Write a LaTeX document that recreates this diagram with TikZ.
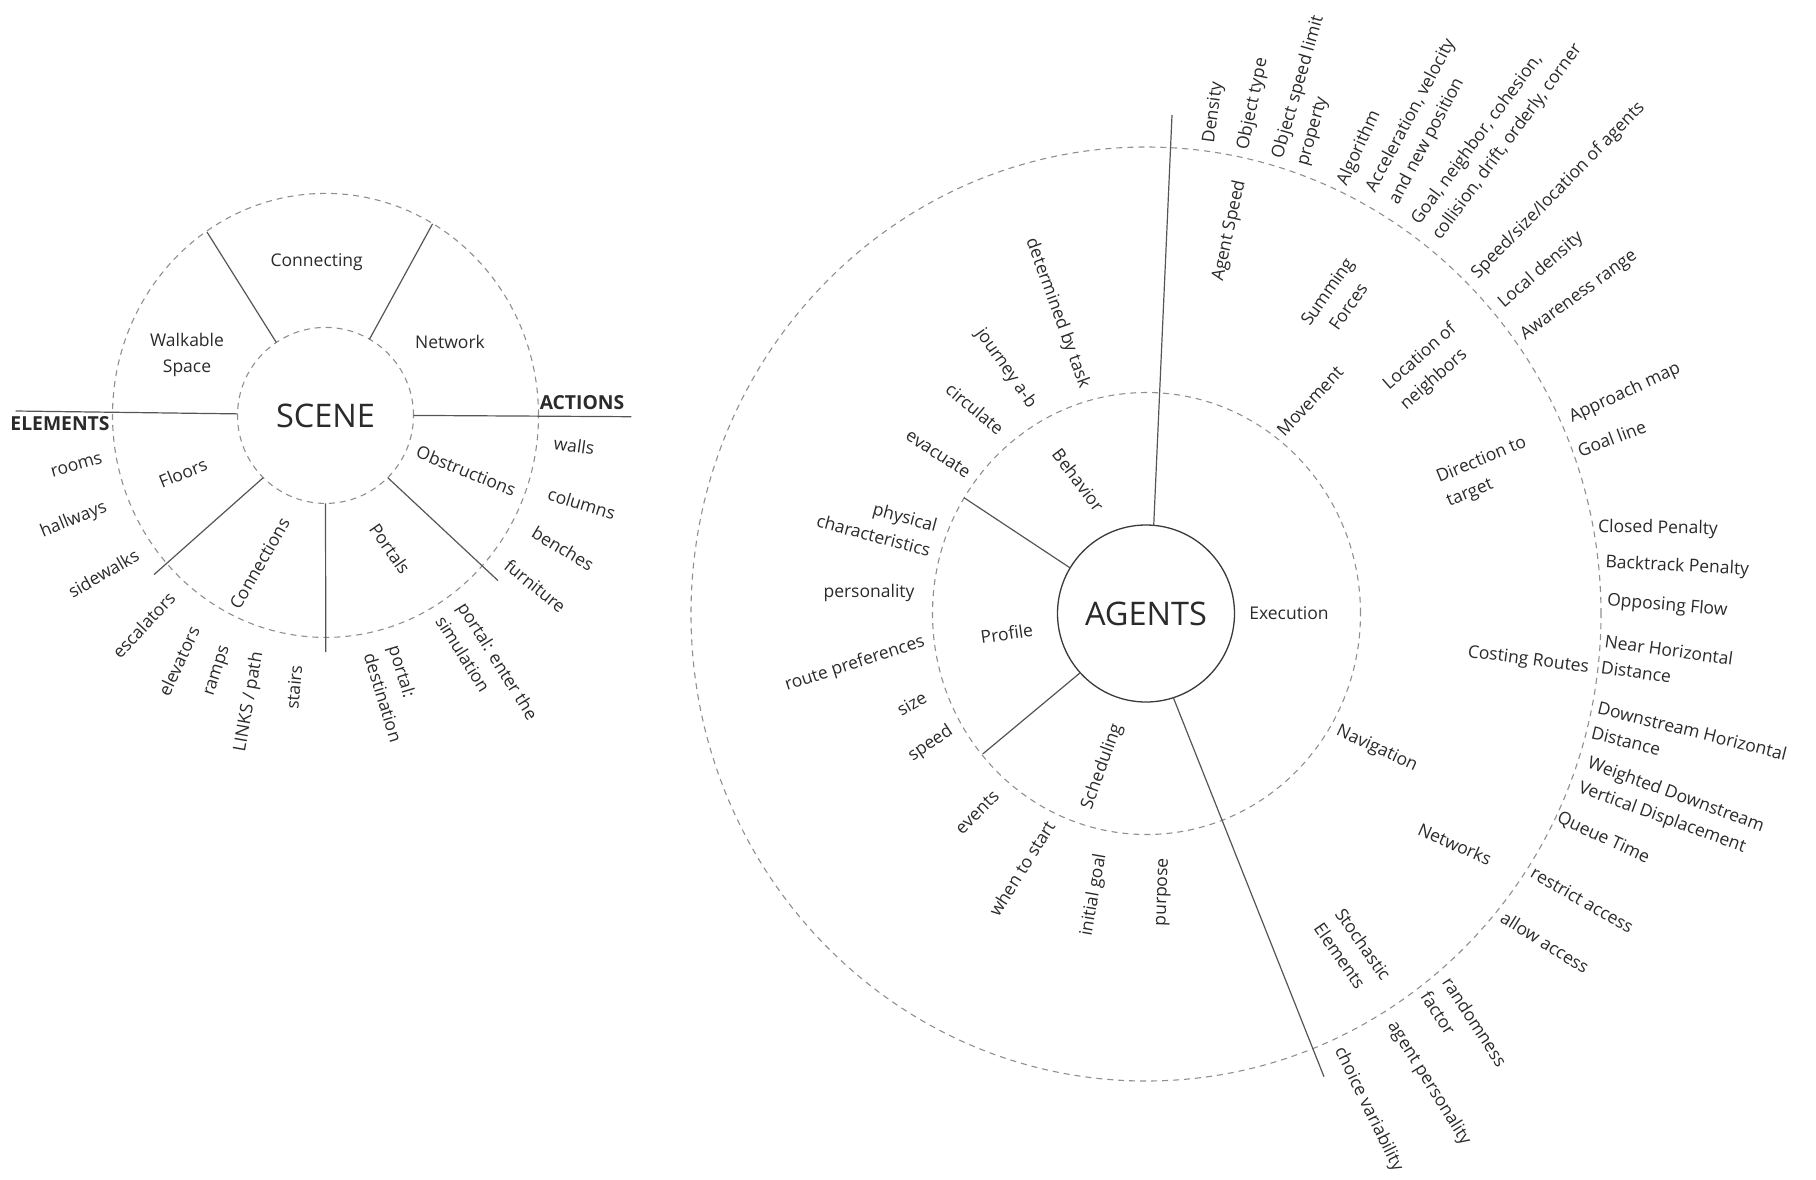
\documentclass[tikz,border=0pt]{standalone}
\usepackage{fontspec}
\setmainfont{Open Sans}
\definecolor{ink}{HTML}{2A2A2A}
\definecolor{spokegray}{HTML}{555555}
\definecolor{ringgray}{HTML}{8F8F8F}
\definecolor{hubgray}{HTML}{3A3A3A}
\tikzset{
  lbl/.style={font=\fontsize{17.5}{26}\selectfont, text=ink, inner sep=0pt},
  lblL/.style={lbl, align=left},
  lblC/.style={lbl, align=center},
  lblR/.style={lbl, align=right},
  head/.style={font=\bfseries\fontsize{19.3}{23}\selectfont, text=ink, inner sep=0pt},
  title/.style={font=\fontsize{32.5}{38}\selectfont, text=ink},
  ring/.style={draw=ringgray, line width=1.1pt, dash pattern=on 6pt off 5pt},
  spoke/.style={draw=spokegray, line width=1.2pt},
}
\begin{document}
\begin{tikzpicture}[x=1pt,y=-1pt]
\useasboundingbox (0,0) rectangle (1816,1179);

% ---------------- SCENE ----------------
\draw[ring] (325.5,415.4) ellipse [x radius=213pt, y radius=222pt];
\node[title, circle, ring, minimum size=176pt, inner sep=0pt, outer sep=0pt] (scene) at (325.5,415.4) {SCENE};

\coordinate (s1) at (207,232);
\coordinate (s2) at (432.6,223.8);
\coordinate (s3) at (15.7,411);
\coordinate (s4) at (631.4,416.7);
\coordinate (s5) at (154,574.6);
\coordinate (s6) at (325.8,652);
\coordinate (s7) at (498,580.6);
\draw[spoke] (scene.124) -- (s1);
\draw[spoke] (scene.60) -- (s2);
\draw[spoke] (scene.179) -- (s3);
\draw[spoke] (scene.0) -- (s4);
\draw[spoke] (scene.225) -- (s5);
\draw[spoke] (scene.270) -- (s6);
\draw[spoke] (scene.315) -- (s7);

\node[lbl] (connecting) at (316.7,261.8) {Connecting};
\node[lblC] (walkable) at (187,354.7) {Walkable\\Space};
\node[lbl] (network) at (450,341.6) {Network};
\node[head] (elements) at (60,424) {ELEMENTS};
\node[head] (actions) at (582,402.5) {ACTIONS};
\node[lbl, rotate=16] (rooms) at (76.6,465.8) {rooms};
\node[lbl, rotate=22] (hallways) at (73.7,520) {hallways};
\node[lbl, rotate=30] (sidewalks) at (103.5,573.2) {sidewalks};
\node[lbl, rotate=22] (floors) at (183,472.8) {Floors};
\node[lbl, rotate=60] (connections) at (259.6,563.5) {Connections};
\node[lbl, rotate=47] (escalators) at (143.7,624.8) {escalators};
\node[lbl, rotate=65] (elevators) at (178.8,661.2) {elevators};
\node[lbl, rotate=72] (ramps) at (218.6,671.3) {ramps};
\node[lbl, rotate=80] (links) at (249.2,702) {LINKS / path};
\node[lbl, rotate=85] (stairs) at (294,687.3) {stairs};
\node[lblL, rotate=-73] (destination) at (395.7,693.7) {portal:\\destination};
\node[lblL, rotate=-58] (enter) at (487.1,667.8) {portal: enter the\\simulation};
\node[lbl, rotate=-55] (portals) at (390,548.6) {Portals};
\node[lbl, rotate=-22] (obstructions) at (466.2,470.6) {Obstructions};
\node[lbl, rotate=-8] (walls) at (574.2,445.7) {walls};
\node[lbl, rotate=-17] (columns) at (581.7,503.7) {columns};
\node[lbl, rotate=-31] (benches) at (563,548.6) {benches};
\node[lbl, rotate=-39] (furniture) at (535.3,585.8) {furniture};

% ---------------- AGENTS ----------------
\draw[ring] (1146,614) ellipse [x radius=455pt, y radius=467pt];
\draw[ring] (1146.5,613.5) ellipse [x radius=214pt, y radius=221pt];
\node[title, circle, draw=hubgray, line width=1.3pt, minimum size=177pt, inner sep=0pt, outer sep=0pt, fill=white] (agents) at (1146,613.5) {AGENTS};

\coordinate (a1) at (1172,115);
\coordinate (a2) at (964,497.7);
\coordinate (a3) at (982.7,754);
\coordinate (a4) at (1324,1076.7);
\draw[spoke] (agents.85.6) -- (a1);
\draw[spoke] (agents.149.8) -- (a2);
\draw[spoke] (agents.222.2) -- (a3);
\draw[spoke] (agents.288) -- (a4);

% Execution sector
\node[lbl] (execution) at (1289,613.3) {Execution};
\node[lbl, rotate=47] (movement) at (1310,401.3) {Movement};
\node[lbl, rotate=-25] (navigation) at (1376.7,749) {Navigation};
\node[lbl, rotate=82.3] (density) at (1213.7,112.7) {Density};
\node[lbl, rotate=78.2] (objtype) at (1253,104) {Object type};
\node[lblL, rotate=74] (objlimit) at (1310.9,90.9) {Object speed limit\\property};
\node[lbl, rotate=77.7] (agentspeed) at (1229.4,230.7) {Agent Speed};
\node[lbl, rotate=65.4] (algorithm) at (1359.2,148.3) {Algorithm};
\node[lblL, rotate=62] (accel) at (1422.5,121.8) {Acceleration, velocity\\and new position};
\node[lblL, rotate=53.5] (goal) at (1497.1,134.6) {Goal, neighbor, cohesion,\\collision, drift, orderly, corner};
\node[lbl, rotate=45.7] (speedsize) at (1558.4,190.7) {Speed/size/location of agents};
\node[lbl, rotate=41] (localdens) at (1541,270.3) {Local density};
\node[lbl, rotate=36.3] (awareness) at (1579,295.7) {Awareness range};
\node[lblC, rotate=55] (summing) at (1337.5,299) {Summing\\Forces};
\node[lblL, rotate=41.5] (location) at (1428.6,367) {Location of\\neighbors};
\node[lblL, rotate=22.5] (direction) at (1486.7,472.7) {Direction to\\target};
\node[lbl, rotate=24.7] (approach) at (1625,393.3) {Approach map};
\node[lbl, rotate=20.7] (goalline) at (1611.7,438.3) {Goal line};
\node[lbl, rotate=-1] (closed) at (1658,528.7) {Closed Penalty};
\node[lbl, rotate=-3] (backtrack) at (1677.3,566.7) {Backtrack Penalty};
\node[lbl, rotate=-5] (opposing) at (1667.3,606) {Opposing Flow};
\node[lblL, rotate=-8] (nearhor) at (1667.2,662.9) {Near Horizontal\\Distance};
\node[lbl, rotate=-7.5] (costing) at (1528.3,660.7) {Costing Routes};
\node[lblL, rotate=-14] (downhor) at (1689.2,743.3) {Downstream Horizontal\\Distance};
\node[lblL, rotate=-20] (weighted) at (1671.2,807.7) {Weighted Downstream\\Vertical Displacement};
\node[lbl, rotate=-25] (queue) at (1603.3,838.3) {Queue Time};
\node[lbl, rotate=-30] (restrict) at (1582.3,900) {restrict access};
\node[lbl, rotate=-32] (allow) at (1545,942.3) {allow access};
\node[lbl, rotate=-24] (networks) at (1455,844) {Networks};
\node[lblL, rotate=-55] (stochastic) at (1352.7,951.5) {Stochastic\\Elements};
\node[lblL, rotate=-57] (randomness) at (1464.1,1028.8) {randomness\\factor};
\node[lbl, rotate=-58] (agentpers) at (1429,1083.3) {agent personality};
\node[lbl, rotate=-64] (choice) at (1368.3,1109.3) {choice variability};

% Scheduling sector
\node[lbl, rotate=70] (scheduling) at (1102.3,766.7) {Scheduling};
\node[lbl, rotate=88] (purpose) at (1164,892.3) {purpose};
\node[lbl, rotate=80] (initgoal) at (1094,895) {initial goal};
\node[lbl, rotate=58] (whenstart) at (1021.7,868.3) {when to start};
\node[lbl, rotate=45] (events) at (977.3,812.3) {events};

% Profile sector
\node[lbl, rotate=8] (profile) at (1006.7,633.3) {Profile};
\node[lbl, rotate=34] (speed) at (930.7,744) {speed};
\node[lbl, rotate=30] (size) at (911.7,703.3) {size};
\node[lbl, rotate=18] (routepref) at (855,664) {route preferences};
\node[lbl] (personality) at (869,593.3) {personality};
\node[lblR, rotate=-15] (physical) at (877,523) {physical\\characteristics};

% Behavior sector
\node[lbl, rotate=-53] (behavior) at (1078.3,480) {Behavior};
\node[lbl, rotate=-33] (evacuate) at (938.3,454) {evacuate};
\node[lbl, rotate=-40] (circulate) at (975,409) {circulate};
\node[lbl, rotate=-55] (journey) at (1005.7,368.3) {journey a-b};
\node[lbl, rotate=-70] (determined) at (1057.3,313.3) {determined by task};
\end{tikzpicture}
\end{document}
